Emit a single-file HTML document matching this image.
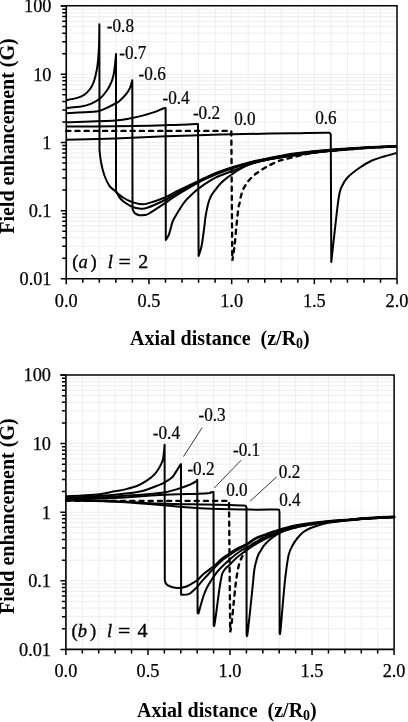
<!DOCTYPE html>
<html><head><meta charset="utf-8"><style>
html,body{margin:0;padding:0;background:#fff;}
svg{display:block;}
.tl{font-family:"Liberation Serif",serif;font-size:18.3px;fill:#000;stroke:#000;stroke-width:0.25px;}
.cl{font-family:"Liberation Serif",serif;font-size:17.2px;fill:#000;stroke:#000;stroke-width:0.2px;}
.ann{font-family:"Liberation Serif",serif;font-size:18.5px;fill:#000;stroke:#000;stroke-width:0.35px;white-space:pre;}
.it{font-style:italic;}
.xt{font-family:"Liberation Serif",serif;font-size:20px;font-weight:bold;fill:#000;white-space:pre;}
.yt{font-family:"Liberation Serif",serif;font-size:20px;font-weight:bold;fill:#000;}
</style></head><body>
<svg width="408" height="722" viewBox="0 0 408 722">
<rect width="408" height="722" fill="#fff"/>
<path d="M82.79,5.85V278.75M99.33,5.85V278.75M115.87,5.85V278.75M132.41,5.85V278.75M148.95,5.85V278.75M165.49,5.85V278.75M182.03,5.85V278.75M198.57,5.85V278.75M215.11,5.85V278.75M231.65,5.85V278.75M248.19,5.85V278.75M264.73,5.85V278.75M281.27,5.85V278.75M297.81,5.85V278.75M314.35,5.85V278.75M330.89,5.85V278.75M347.43,5.85V278.75M363.97,5.85V278.75M380.51,5.85V278.75M66.25,258.32H397.00M66.25,246.31H397.00M66.25,237.79H397.00M66.25,231.18H397.00M66.25,225.78H397.00M66.25,221.21H397.00M66.25,217.26H397.00M66.25,213.77H397.00M66.25,210.65H397.00M66.25,190.12H397.00M66.25,178.11H397.00M66.25,169.59H397.00M66.25,162.98H397.00M66.25,157.58H397.00M66.25,153.01H397.00M66.25,149.06H397.00M66.25,145.57H397.00M66.25,142.45H397.00M66.25,121.92H397.00M66.25,109.91H397.00M66.25,101.39H397.00M66.25,94.78H397.00M66.25,89.38H397.00M66.25,84.81H397.00M66.25,80.86H397.00M66.25,77.37H397.00M66.25,74.25H397.00M66.25,53.72H397.00M66.25,41.71H397.00M66.25,33.19H397.00M66.25,26.58H397.00M66.25,21.18H397.00M66.25,16.61H397.00M66.25,12.66H397.00M66.25,9.17H397.00" stroke="#eeeeee" stroke-width="1" fill="none"/>
<path d="M60.75,278.85H66.25M62.25,258.32H66.25M62.25,246.31H66.25M62.25,237.79H66.25M62.25,231.18H66.25M62.25,225.78H66.25M62.25,221.21H66.25M62.25,217.26H66.25M62.25,213.77H66.25M60.75,210.65H66.25M62.25,190.12H66.25M62.25,178.11H66.25M62.25,169.59H66.25M62.25,162.98H66.25M62.25,157.58H66.25M62.25,153.01H66.25M62.25,149.06H66.25M62.25,145.57H66.25M60.75,142.45H66.25M62.25,121.92H66.25M62.25,109.91H66.25M62.25,101.39H66.25M62.25,94.78H66.25M62.25,89.38H66.25M62.25,84.81H66.25M62.25,80.86H66.25M62.25,77.37H66.25M60.75,74.25H66.25M62.25,53.72H66.25M62.25,41.71H66.25M62.25,33.19H66.25M62.25,26.58H66.25M62.25,21.18H66.25M62.25,16.61H66.25M62.25,12.66H66.25M62.25,9.17H66.25M60.75,6.05H66.25M66.25,278.75V284.25M82.79,278.75V282.75M99.33,278.75V282.75M115.87,278.75V282.75M132.41,278.75V282.75M148.95,278.75V284.25M165.49,278.75V282.75M182.03,278.75V282.75M198.57,278.75V282.75M215.11,278.75V282.75M231.65,278.75V284.25M248.19,278.75V282.75M264.73,278.75V282.75M281.27,278.75V282.75M297.81,278.75V282.75M314.35,278.75V284.25M330.89,278.75V282.75M347.43,278.75V282.75M363.97,278.75V282.75M380.51,278.75V282.75M397.05,278.75V284.25" stroke="#000" stroke-width="1.5" fill="none"/>
<path d="M66.25,5.85V278.75H397.00" stroke="#000" stroke-width="1.6" fill="none"/>
<path d="M60.75,5.85H397.00V278.75" stroke="#000" stroke-width="1.50" fill="none"/>
<path d="M66.25,100.00C67.96,99.68 73.54,98.93 76.50,98.10C79.46,97.27 81.71,96.56 84.00,95.00C86.29,93.44 88.58,91.04 90.25,88.75C91.92,86.46 92.92,84.38 94.00,81.25C95.08,78.12 96.07,73.54 96.75,70.00C97.43,66.46 97.72,63.96 98.10,60.00C98.47,56.04 98.78,52.20 99.00,46.25C99.22,40.30 99.33,27.96 99.40,24.30L99.50,150.00C99.77,152.08 100.31,158.33 101.10,162.50C101.89,166.67 102.89,171.15 104.25,175.00C105.61,178.85 107.58,183.05 109.25,185.60C110.92,188.15 111.96,188.32 114.25,190.30C116.54,192.28 120.08,195.57 123.00,197.50C125.92,199.43 129.04,200.83 131.75,201.90C134.46,202.97 136.71,203.62 139.25,203.90C141.79,204.18 142.71,204.67 147.00,203.60C151.29,202.53 160.17,199.50 165.00,197.50C169.83,195.50 170.38,194.38 176.00,191.60C181.62,188.82 192.03,183.90 198.70,180.80C205.37,177.70 210.52,175.22 216.00,173.00C221.48,170.78 225.93,169.32 231.60,167.50C237.27,165.68 244.43,163.53 250.00,162.10C255.57,160.67 260.00,159.92 265.00,158.90C270.00,157.88 274.83,156.93 280.00,156.00C285.17,155.07 287.67,154.34 296.00,153.30C304.33,152.26 317.33,150.82 330.00,149.78C342.67,148.74 360.92,147.68 372.00,147.06C383.08,146.44 392.42,146.23 396.50,146.06" stroke="#000" stroke-width="2.00" fill="none" stroke-linejoin="round"/>
<path d="M66.25,107.90C68.74,107.68 77.01,107.32 81.20,106.60C85.39,105.88 88.27,104.93 91.40,103.60C94.53,102.27 97.42,100.78 100.00,98.60C102.58,96.42 105.03,93.15 106.90,90.50C108.77,87.85 110.07,85.42 111.20,82.70C112.33,79.98 113.05,77.33 113.70,74.20C114.35,71.07 114.72,67.25 115.10,63.90C115.48,60.55 115.85,55.73 116.00,54.10L116.00,191.25C116.75,192.50 118.71,196.67 120.50,198.75C122.29,200.83 124.77,202.39 126.75,203.75C128.73,205.11 130.32,206.11 132.40,206.90C134.48,207.69 136.82,208.33 139.25,208.50C141.68,208.67 142.71,209.32 147.00,207.90C151.29,206.48 160.17,202.38 165.00,200.00C169.83,197.62 170.38,196.68 176.00,193.60C181.62,190.52 192.03,184.82 198.70,181.50C205.37,178.18 210.52,175.95 216.00,173.70C221.48,171.45 225.93,169.85 231.60,168.00C237.27,166.15 244.43,164.03 250.00,162.60C255.57,161.17 260.00,160.42 265.00,159.40C270.00,158.38 274.83,157.43 280.00,156.50C285.17,155.57 287.67,154.87 296.00,153.80C304.33,152.73 317.33,151.20 330.00,150.11C342.67,149.01 360.92,147.86 372.00,147.21C383.08,146.56 392.42,146.38 396.50,146.21" stroke="#000" stroke-width="2.00" fill="none" stroke-linejoin="round"/>
<path d="M66.25,113.30C70.16,113.07 84.24,112.28 89.70,111.90C95.16,111.52 96.13,111.68 99.00,111.00C101.87,110.32 104.23,109.01 106.90,107.80C109.57,106.59 113.00,104.82 115.00,103.75C117.00,102.68 117.12,102.91 118.90,101.40C120.68,99.89 123.85,96.95 125.70,94.70C127.55,92.45 128.90,90.32 130.00,87.90C131.10,85.48 131.92,81.48 132.30,80.20L132.50,208.75C132.85,209.47 133.47,212.03 134.60,213.10C135.72,214.17 137.64,214.88 139.25,215.20C140.86,215.52 142.62,215.28 144.25,215.00C145.88,214.72 145.54,215.48 149.00,213.50C152.46,211.52 160.50,206.08 165.00,203.10C169.50,200.12 170.38,199.07 176.00,195.60C181.62,192.13 192.03,185.83 198.70,182.30C205.37,178.77 210.52,176.70 216.00,174.40C221.48,172.10 225.93,170.37 231.60,168.50C237.27,166.63 244.43,164.63 250.00,163.20C255.57,161.77 260.00,160.93 265.00,159.90C270.00,158.87 274.83,157.93 280.00,157.00C285.17,156.07 287.67,155.39 296.00,154.30C304.33,153.20 317.33,151.59 330.00,150.43C342.67,149.27 360.92,148.04 372.00,147.36C383.08,146.68 392.42,146.53 396.50,146.36" stroke="#000" stroke-width="2.00" fill="none" stroke-linejoin="round"/>
<path d="M66.25,122.25C74.38,121.97 104.04,121.29 115.00,120.60C125.96,119.91 127.00,119.03 132.00,118.10C137.00,117.17 141.17,116.03 145.00,115.00C148.83,113.97 152.00,112.98 155.00,111.90C158.00,110.82 161.23,109.13 163.00,108.50C164.77,107.87 165.17,108.17 165.60,108.10L165.80,240.00C166.29,239.17 167.95,236.88 168.75,235.00C169.55,233.12 169.97,230.93 170.60,228.75C171.22,226.57 171.77,223.88 172.50,221.90C173.23,219.93 173.60,219.35 175.00,216.90C176.40,214.45 179.10,209.95 180.90,207.20C182.70,204.45 184.17,202.35 185.80,200.40C187.43,198.45 189.07,197.07 190.70,195.50C192.33,193.93 194.27,192.15 195.60,191.00C196.93,189.85 197.07,189.82 198.70,188.60C200.33,187.38 202.52,185.58 205.40,183.70C208.28,181.82 211.63,179.38 216.00,177.30C220.37,175.22 227.64,172.73 231.60,171.20C235.56,169.67 237.18,169.10 239.75,168.10C242.32,167.10 244.12,166.22 247.00,165.20C249.88,164.18 253.50,162.97 257.00,162.00C260.50,161.03 264.17,160.15 268.00,159.40C271.83,158.65 275.33,158.27 280.00,157.50C284.67,156.73 287.67,155.92 296.00,154.80C304.33,153.68 317.33,151.97 330.00,150.76C342.67,149.54 360.92,148.22 372.00,147.51C383.08,146.80 392.42,146.68 396.50,146.51" stroke="#000" stroke-width="2.00" fill="none" stroke-linejoin="round"/>
<path d="M66.25,126.60C74.38,126.55 101.04,126.45 115.00,126.30C128.96,126.15 140.83,125.90 150.00,125.70C159.17,125.50 163.67,125.30 170.00,125.10C176.33,124.90 183.33,124.68 188.00,124.50C192.67,124.32 196.33,124.08 198.00,124.00L198.60,256.00C199.04,254.58 200.50,250.79 201.25,247.50C202.00,244.21 202.57,239.79 203.10,236.25C203.62,232.71 203.98,229.58 204.40,226.25C204.82,222.92 205.08,219.54 205.60,216.25C206.12,212.96 206.93,209.04 207.50,206.50C208.07,203.96 208.37,202.83 209.00,201.00C209.63,199.17 210.38,197.18 211.30,195.50C212.22,193.82 213.38,192.43 214.50,190.90C215.62,189.37 216.92,187.63 218.00,186.30C219.08,184.97 219.46,184.35 221.00,182.90C222.54,181.45 225.48,179.00 227.25,177.60C229.02,176.20 229.93,175.65 231.60,174.50C233.27,173.35 235.27,171.93 237.25,170.70C239.23,169.47 241.38,168.15 243.50,167.10C245.62,166.05 246.92,165.43 250.00,164.40C253.08,163.37 257.00,162.05 262.00,160.90C267.00,159.75 274.33,158.45 280.00,157.50C285.67,156.55 287.67,156.28 296.00,155.20C304.33,154.12 317.33,152.28 330.00,151.02C342.67,149.75 360.92,148.36 372.00,147.63C383.08,146.90 392.42,146.80 396.50,146.63" stroke="#000" stroke-width="2.00" fill="none" stroke-linejoin="round"/>
<path d="M66.25,139.75C74.38,139.54 98.38,139.08 115.00,138.50C131.62,137.92 148.50,136.90 166.00,136.25C183.50,135.60 202.67,135.04 220.00,134.60C237.33,134.16 256.67,133.83 270.00,133.60C283.33,133.37 290.67,133.33 300.00,133.20C309.33,133.07 321.08,132.83 326.00,132.80C330.92,132.77 328.71,132.72 329.50,133.00C330.29,133.28 330.54,134.25 330.75,134.50L331.30,262.00C331.71,258.33 332.93,247.42 333.75,240.00C334.57,232.58 335.42,224.58 336.25,217.50C337.08,210.42 337.92,202.50 338.75,197.50C339.58,192.50 339.79,190.83 341.25,187.50C342.71,184.17 344.38,180.83 347.50,177.50C350.62,174.17 355.92,170.33 360.00,167.50C364.08,164.67 368.00,162.33 372.00,160.50C376.00,158.67 379.92,157.75 384.00,156.50C388.08,155.25 394.42,153.58 396.50,153.00" stroke="#000" stroke-width="2.00" fill="none" stroke-linejoin="round"/>
<path d="M66.25,130.90L231.30,130.90L232.30,260.80C232.67,258.38 233.80,252.22 234.50,246.30C235.20,240.38 235.83,231.77 236.50,225.30C237.17,218.83 237.98,211.18 238.50,207.50C239.02,203.82 239.25,204.85 239.60,203.20C239.95,201.55 240.05,199.83 240.60,197.60C241.15,195.37 242.03,191.95 242.90,189.80C243.77,187.65 244.83,186.22 245.80,184.70C246.77,183.18 247.55,182.08 248.70,180.70C249.85,179.32 251.38,177.63 252.70,176.40C254.02,175.17 255.13,174.38 256.60,173.30C258.07,172.22 260.03,170.87 261.50,169.90C262.97,168.93 264.00,168.30 265.40,167.50C266.80,166.70 267.82,166.13 269.90,165.10C271.98,164.07 275.38,162.27 277.90,161.30C280.42,160.33 281.98,160.10 285.00,159.30C288.02,158.50 291.50,157.55 296.00,156.50C300.50,155.45 306.33,153.94 312.00,153.00C317.67,152.06 320.00,151.79 330.00,150.89C340.00,149.98 360.92,148.29 372.00,147.57C383.08,146.85 392.42,146.74 396.50,146.57" stroke="#000" stroke-width="2.35" fill="none" stroke-dasharray="4.1 5.1" stroke-linecap="round"/>
<text transform="translate(106.80,31.80) scale(1,1.12)" class="cl">-0.8</text>
<text transform="translate(119.20,58.60) scale(1,1.12)" class="cl">-0.7</text>
<text transform="translate(138.60,79.90) scale(1,1.12)" class="cl">-0.6</text>
<text transform="translate(162.50,104.00) scale(1,1.12)" class="cl">-0.4</text>
<text transform="translate(192.90,118.50) scale(1,1.12)" class="cl">-0.2</text>
<text transform="translate(234.20,125.40) scale(1,1.12)" class="cl">0.0</text>
<text transform="translate(315.20,123.60) scale(1,1.12)" class="cl">0.6</text>
<text x="51.50" y="12.35" text-anchor="end" class="tl">100</text>
<text x="51.50" y="80.55" text-anchor="end" class="tl">10</text>
<text x="51.50" y="148.75" text-anchor="end" class="tl">1</text>
<text x="51.50" y="216.95" text-anchor="end" class="tl">0.1</text>
<text x="51.50" y="285.15" text-anchor="end" class="tl">0.01</text>
<text x="66.25" y="307.00" text-anchor="middle" class="tl">0.0</text>
<text x="148.95" y="307.00" text-anchor="middle" class="tl">0.5</text>
<text x="231.65" y="307.00" text-anchor="middle" class="tl">1.0</text>
<text x="314.35" y="307.00" text-anchor="middle" class="tl">1.5</text>
<text x="397.05" y="307.00" text-anchor="middle" class="tl">2.0</text>
<text x="72.30" y="267.60" class="ann">(</text><text x="78.40" y="267.60" class="ann it">a</text><text x="90.60" y="267.60" class="ann">)</text><text x="107.80" y="267.60" class="ann it">l</text><text transform="translate(118.60,267.60) scale(1.18,1)" class="ann">=</text><text transform="translate(138.30,267.60) scale(1.08,1)" class="ann">2</text>
<text x="130" y="344.5" class="xt">Axial distance  (z/R<tspan font-size="14" dy="3">0</tspan><tspan dy="-3">)</tspan></text>
<text transform="translate(13.7,233.8) rotate(-90)" class="yt">Field enhancement (G)</text>
<path d="M82.31,375.00V649.40M98.72,375.00V649.40M115.13,375.00V649.40M131.54,375.00V649.40M147.95,375.00V649.40M164.36,375.00V649.40M180.77,375.00V649.40M197.18,375.00V649.40M213.59,375.00V649.40M230.00,375.00V649.40M246.41,375.00V649.40M262.82,375.00V649.40M279.23,375.00V649.40M295.64,375.00V649.40M312.05,375.00V649.40M328.46,375.00V649.40M344.87,375.00V649.40M361.28,375.00V649.40M377.69,375.00V649.40M65.90,628.75H394.10M65.90,616.67H394.10M65.90,608.10H394.10M65.90,601.45H394.10M65.90,596.02H394.10M65.90,591.43H394.10M65.90,587.45H394.10M65.90,583.94H394.10M65.90,580.80H394.10M65.90,560.15H394.10M65.90,548.07H394.10M65.90,539.50H394.10M65.90,532.85H394.10M65.90,527.42H394.10M65.90,522.83H394.10M65.90,518.85H394.10M65.90,515.34H394.10M65.90,512.20H394.10M65.90,491.55H394.10M65.90,479.47H394.10M65.90,470.90H394.10M65.90,464.25H394.10M65.90,458.82H394.10M65.90,454.23H394.10M65.90,450.25H394.10M65.90,446.74H394.10M65.90,443.60H394.10M65.90,422.95H394.10M65.90,410.87H394.10M65.90,402.30H394.10M65.90,395.65H394.10M65.90,390.22H394.10M65.90,385.63H394.10M65.90,381.65H394.10M65.90,378.14H394.10" stroke="#eeeeee" stroke-width="1" fill="none"/>
<path d="M60.40,649.40H65.90M61.90,628.75H65.90M61.90,616.67H65.90M61.90,608.10H65.90M61.90,601.45H65.90M61.90,596.02H65.90M61.90,591.43H65.90M61.90,587.45H65.90M61.90,583.94H65.90M60.40,580.80H65.90M61.90,560.15H65.90M61.90,548.07H65.90M61.90,539.50H65.90M61.90,532.85H65.90M61.90,527.42H65.90M61.90,522.83H65.90M61.90,518.85H65.90M61.90,515.34H65.90M60.40,512.20H65.90M61.90,491.55H65.90M61.90,479.47H65.90M61.90,470.90H65.90M61.90,464.25H65.90M61.90,458.82H65.90M61.90,454.23H65.90M61.90,450.25H65.90M61.90,446.74H65.90M60.40,443.60H65.90M61.90,422.95H65.90M61.90,410.87H65.90M61.90,402.30H65.90M61.90,395.65H65.90M61.90,390.22H65.90M61.90,385.63H65.90M61.90,381.65H65.90M61.90,378.14H65.90M60.40,375.00H65.90M65.90,649.40V654.90M82.31,649.40V653.40M98.72,649.40V653.40M115.13,649.40V653.40M131.54,649.40V653.40M147.95,649.40V654.90M164.36,649.40V653.40M180.77,649.40V653.40M197.18,649.40V653.40M213.59,649.40V653.40M230.00,649.40V654.90M246.41,649.40V653.40M262.82,649.40V653.40M279.23,649.40V653.40M295.64,649.40V653.40M312.05,649.40V654.90M328.46,649.40V653.40M344.87,649.40V653.40M361.28,649.40V653.40M377.69,649.40V653.40M394.10,649.40V654.90" stroke="#000" stroke-width="1.5" fill="none"/>
<path d="M65.90,375.00V649.40H394.10" stroke="#000" stroke-width="1.6" fill="none"/>
<path d="M60.40,375.00H394.10V649.40" stroke="#000" stroke-width="1.50" fill="none"/>
<path d="M65.90,496.30C70.58,496.05 85.82,495.63 94.00,494.80C102.18,493.97 109.83,492.20 115.00,491.30C120.17,490.40 121.25,490.32 125.00,489.40C128.75,488.48 133.75,487.33 137.50,485.80C141.25,484.27 144.58,482.18 147.50,480.20C150.42,478.22 152.92,476.20 155.00,473.90C157.08,471.60 158.65,468.92 160.00,466.40C161.35,463.88 162.33,462.35 163.10,458.75C163.87,455.15 164.35,447.12 164.60,444.80L164.80,580.00C164.93,580.50 165.15,582.13 165.60,583.00C166.05,583.87 166.35,584.50 167.50,585.20C168.65,585.90 170.62,586.75 172.50,587.20C174.38,587.65 176.67,587.93 178.75,587.90C180.83,587.87 182.92,587.65 185.00,587.00C187.08,586.35 189.17,585.17 191.25,584.00C193.33,582.83 195.42,581.70 197.50,580.00C199.58,578.30 201.05,576.08 203.75,573.80C206.45,571.52 210.66,568.83 213.70,566.30C216.74,563.77 219.28,560.78 222.00,558.60C224.72,556.42 227.67,554.80 230.00,553.20C232.33,551.60 233.22,550.57 236.00,549.00C238.78,547.43 243.37,545.65 246.70,543.80C250.03,541.95 252.78,539.50 256.00,537.90C259.22,536.30 263.00,535.30 266.00,534.20C269.00,533.10 269.00,532.78 274.00,531.30C279.00,529.82 287.33,526.96 296.00,525.30C304.67,523.64 317.83,522.23 326.00,521.32C334.17,520.42 338.33,520.43 345.00,519.87C351.67,519.31 357.75,518.52 366.00,517.97C374.25,517.42 389.75,516.80 394.50,516.57" stroke="#000" stroke-width="2.00" fill="none" stroke-linejoin="round"/>
<path d="M65.90,498.20C74.08,497.62 102.65,495.80 115.00,494.70C127.35,493.60 132.50,493.28 140.00,491.60C147.50,489.92 155.62,486.30 160.00,484.60C164.38,482.90 164.17,482.67 166.25,481.40C168.33,480.13 170.83,478.67 172.50,477.00C174.17,475.33 175.10,473.17 176.25,471.40C177.40,469.63 178.61,467.62 179.40,466.40C180.19,465.18 180.73,464.48 181.00,464.10L181.10,594.75C182.38,594.64 186.64,594.86 188.75,594.10C190.86,593.34 192.29,591.48 193.75,590.20C195.21,588.92 195.83,588.23 197.50,586.40C199.17,584.57 201.50,581.73 203.75,579.20C206.00,576.67 209.34,572.95 211.00,571.20C212.66,569.45 211.87,570.48 213.70,568.70C215.53,566.92 219.28,562.78 222.00,560.50C224.72,558.22 227.67,556.65 230.00,555.00C232.33,553.35 233.22,552.27 236.00,550.60C238.78,548.93 243.37,547.00 246.70,545.00C250.03,543.00 252.78,540.28 256.00,538.60C259.22,536.92 263.00,536.00 266.00,534.90C269.00,533.80 269.00,533.48 274.00,532.00C279.00,530.52 287.33,527.72 296.00,526.00C304.67,524.28 317.83,522.68 326.00,521.69C334.17,520.70 338.33,520.67 345.00,520.08C351.67,519.49 357.75,518.73 366.00,518.18C374.25,517.63 389.75,517.01 394.50,516.78" stroke="#000" stroke-width="2.00" fill="none" stroke-linejoin="round"/>
<path d="M65.90,498.80C74.08,498.42 99.32,497.45 115.00,496.50C130.68,495.55 149.17,494.47 160.00,493.10C170.83,491.73 175.00,489.72 180.00,488.30C185.00,486.88 187.33,485.75 190.00,484.60C192.67,483.45 194.79,482.22 196.00,481.40C197.21,480.58 197.04,479.98 197.25,479.70L197.60,613.00C197.77,613.00 198.12,614.17 198.60,613.00C199.08,611.83 199.68,608.83 200.50,606.00C201.32,603.17 202.42,599.08 203.50,596.00C204.58,592.92 205.75,590.03 207.00,587.50C208.25,584.97 209.25,583.47 211.00,580.80C212.75,578.13 214.43,575.00 217.50,571.50C220.57,568.00 225.65,563.17 229.40,559.80C233.15,556.43 236.40,553.77 240.00,551.30C243.60,548.83 247.33,547.12 251.00,545.00C254.67,542.88 258.17,540.50 262.00,538.60C265.83,536.70 268.33,535.60 274.00,533.60C279.67,531.60 287.33,528.53 296.00,526.60C304.67,524.67 317.83,523.06 326.00,522.00C334.17,520.95 338.33,520.87 345.00,520.26C351.67,519.65 357.75,518.91 366.00,518.36C374.25,517.81 389.75,517.19 394.50,516.96" stroke="#000" stroke-width="2.00" fill="none" stroke-linejoin="round"/>
<path d="M65.90,499.40C74.08,499.15 99.32,498.63 115.00,497.90C130.68,497.17 145.00,495.73 160.00,495.00C175.00,494.27 196.50,493.95 205.00,493.50C213.50,493.05 209.58,492.57 211.00,492.30C212.42,492.03 213.08,491.97 213.50,491.90L213.70,624.80C213.82,624.83 213.92,627.47 214.40,625.00C214.88,622.53 215.85,615.42 216.60,610.00C217.35,604.58 218.23,597.25 218.90,592.50C219.57,587.75 220.00,584.75 220.60,581.50C221.20,578.25 221.60,575.25 222.50,573.00C223.40,570.75 224.85,569.33 226.00,568.00C227.15,566.67 227.90,566.47 229.40,565.00C230.90,563.53 233.23,560.87 235.00,559.20C236.77,557.53 237.33,557.00 240.00,555.00C242.67,553.00 247.33,549.60 251.00,547.20C254.67,544.80 258.17,542.63 262.00,540.60C265.83,538.57 268.33,537.27 274.00,535.00C279.67,532.73 287.33,529.13 296.00,527.00C304.67,524.87 317.83,523.32 326.00,522.21C334.17,521.11 338.33,521.00 345.00,520.38C351.67,519.76 357.75,519.03 366.00,518.48C374.25,517.93 389.75,517.31 394.50,517.08" stroke="#000" stroke-width="2.00" fill="none" stroke-linejoin="round"/>
<path d="M65.90,500.00C74.08,500.20 99.32,500.62 115.00,501.20C130.68,501.78 145.00,502.93 160.00,503.50C175.00,504.07 193.33,504.33 205.00,504.60C216.67,504.87 223.67,504.97 230.00,505.10C236.33,505.23 240.40,505.28 243.00,505.40C245.60,505.52 245.02,505.45 245.60,505.80C246.18,506.15 246.35,507.22 246.50,507.50L246.60,634.30C246.73,634.33 246.80,638.55 247.40,634.50C248.00,630.45 249.35,617.75 250.20,610.00C251.05,602.25 251.82,594.67 252.50,588.00C253.18,581.33 253.72,574.33 254.30,570.00C254.88,565.67 255.38,564.42 256.00,562.00C256.62,559.58 257.25,557.33 258.00,555.50C258.75,553.67 259.67,552.45 260.50,551.00C261.33,549.55 262.08,548.08 263.00,546.80C263.92,545.52 264.83,544.52 266.00,543.30C267.17,542.08 268.33,540.85 270.00,539.50C271.67,538.15 273.83,536.58 276.00,535.20C278.17,533.82 279.67,532.47 283.00,531.20C286.33,529.93 291.50,528.73 296.00,527.60C300.50,526.47 305.00,525.26 310.00,524.40C315.00,523.54 320.17,523.07 326.00,522.42C331.83,521.77 338.33,521.14 345.00,520.50C351.67,519.86 357.75,519.15 366.00,518.60C374.25,518.05 389.75,517.43 394.50,517.20" stroke="#000" stroke-width="2.00" fill="none" stroke-linejoin="round"/>
<path d="M65.90,500.40C74.08,500.63 99.32,501.03 115.00,501.80C130.68,502.57 145.00,503.87 160.00,505.00C175.00,506.13 190.00,507.83 205.00,508.60C220.00,509.37 238.17,509.43 250.00,509.60C261.83,509.77 271.18,509.53 276.00,509.60C280.82,509.67 278.32,509.60 278.90,510.00C279.48,510.40 279.40,511.67 279.50,512.00L279.60,632.30C279.72,632.33 279.85,636.22 280.30,632.50C280.75,628.78 281.60,617.92 282.30,610.00C283.00,602.08 283.84,591.67 284.50,585.00C285.16,578.33 285.54,575.08 286.25,570.00C286.96,564.92 287.71,558.58 288.75,554.50C289.79,550.42 291.04,548.25 292.50,545.50C293.96,542.75 295.68,540.25 297.50,538.00C299.32,535.75 301.20,533.67 303.40,532.00C305.60,530.33 308.27,529.07 310.70,528.00C313.13,526.93 315.45,526.40 318.00,525.60C320.55,524.80 321.50,524.00 326.00,523.20C330.50,522.40 338.33,521.56 345.00,520.80C351.67,520.04 357.75,519.23 366.00,518.63C374.25,518.03 389.75,517.46 394.50,517.23" stroke="#000" stroke-width="2.00" fill="none" stroke-linejoin="round"/>
<path d="M65.90,500.80L229.00,500.80L230.20,632.20C230.47,630.50 231.33,625.70 231.80,622.00C232.27,618.30 232.47,615.33 233.00,610.00C233.53,604.67 234.47,595.00 235.00,590.00C235.53,585.00 235.70,583.50 236.20,580.00C236.70,576.50 237.37,572.08 238.00,569.00C238.63,565.92 239.33,563.50 240.00,561.50C240.67,559.50 241.17,558.67 242.00,557.00C242.83,555.33 243.88,553.17 245.00,551.50C246.12,549.83 247.62,548.05 248.75,547.00C249.88,545.95 250.76,545.87 251.80,545.20C252.84,544.53 253.85,543.77 255.00,543.00C256.15,542.23 257.03,541.60 258.70,540.60C260.37,539.60 262.45,538.22 265.00,537.00C267.55,535.78 268.83,534.93 274.00,533.30C279.17,531.67 287.33,529.03 296.00,527.20C304.67,525.37 317.83,523.44 326.00,522.32C334.17,521.19 338.33,521.07 345.00,520.44C351.67,519.81 357.75,519.09 366.00,518.54C374.25,517.99 389.75,517.37 394.50,517.14" stroke="#000" stroke-width="2.35" fill="none" stroke-dasharray="4.1 5.1" stroke-linecap="round"/>
<path d="M202.25,427.50L183.50,456.50M241.20,460.10L214.25,488.00M276.60,476.90L250.10,501.20" stroke="#222" stroke-width="0.9" fill="none"/>
<text transform="translate(152.80,439.05) scale(1,1.12)" class="cl">-0.4</text>
<text transform="translate(198.50,421.05) scale(1,1.12)" class="cl">-0.3</text>
<text transform="translate(187.40,474.80) scale(1,1.12)" class="cl">-0.2</text>
<text transform="translate(233.00,455.60) scale(1,1.12)" class="cl">-0.1</text>
<text transform="translate(226.20,495.80) scale(1,1.12)" class="cl">0.0</text>
<text transform="translate(278.80,478.40) scale(1,1.12)" class="cl">0.2</text>
<text transform="translate(279.20,506.40) scale(1,1.12)" class="cl">0.4</text>
<text x="51.00" y="381.30" text-anchor="end" class="tl">100</text>
<text x="51.00" y="449.90" text-anchor="end" class="tl">10</text>
<text x="51.00" y="518.50" text-anchor="end" class="tl">1</text>
<text x="51.00" y="587.10" text-anchor="end" class="tl">0.1</text>
<text x="51.00" y="655.70" text-anchor="end" class="tl">0.01</text>
<text x="65.90" y="677.00" text-anchor="middle" class="tl">0.0</text>
<text x="147.95" y="677.00" text-anchor="middle" class="tl">0.5</text>
<text x="230.00" y="677.00" text-anchor="middle" class="tl">1.0</text>
<text x="312.05" y="677.00" text-anchor="middle" class="tl">1.5</text>
<text x="394.10" y="677.00" text-anchor="middle" class="tl">2.0</text>
<text x="71.60" y="637.20" class="ann">(</text><text x="77.70" y="637.20" class="ann it">b</text><text x="89.90" y="637.20" class="ann">)</text><text x="107.10" y="637.20" class="ann it">l</text><text transform="translate(117.90,637.20) scale(1.18,1)" class="ann">=</text><text transform="translate(137.60,637.20) scale(1.08,1)" class="ann">4</text>
<text x="137" y="717" class="xt">Axial distance  (z/R<tspan font-size="14" dy="3">0</tspan><tspan dy="-3">)</tspan></text>
<text transform="translate(14,613.9) rotate(-90)" class="yt">Field enhancement (G)</text>
</svg>
</body></html>
